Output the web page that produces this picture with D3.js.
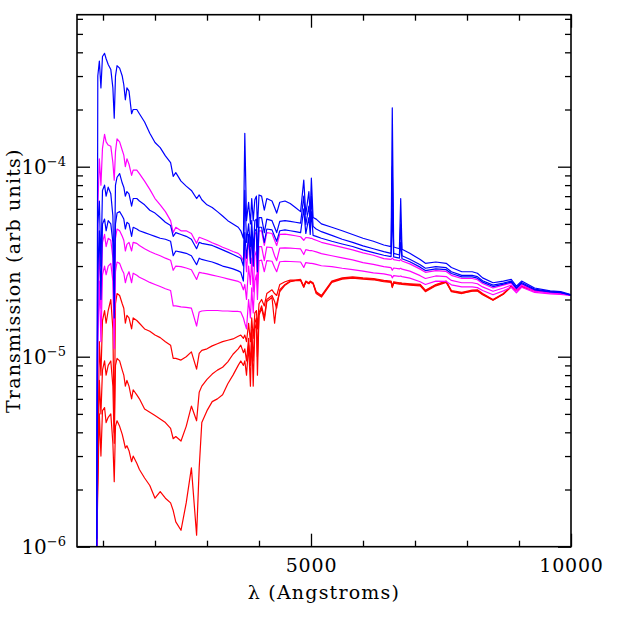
<!DOCTYPE html>
<html><head><meta charset="utf-8">
<script src="https://cdn.jsdelivr.net/npm/d3@7"></script>
<style>body{margin:0;background:#fff}</style>
</head><body>
<svg id="c" width="623" height="623"></svg>
<script>
// wavelength grid (Angstroms)
const wavelength = [
 880, 900, 930, 960, 990, 1030, 1060, 1100, 1150, 1190,
 1216, 1240, 1270, 1320, 1370, 1400, 1430, 1460, 1500, 1550,
 1580, 1650, 1700, 1800, 1900, 2000, 2100, 2200, 2300, 2350,
 2400, 2500, 2600, 2700, 2800, 2850, 2900, 3000, 3100, 3200,
 3300, 3400, 3500, 3600, 3650, 3700, 3727, 3760, 3800, 3835,
 3860, 3889, 3920, 3950, 3970, 4000, 4050, 4102, 4150, 4250,
 4300, 4340, 4400, 4500, 4600, 4700, 4800, 4861, 4900, 4959,
 4985, 5007, 5040, 5100, 5200, 5400, 5600, 5800, 6000, 6200,
 6400, 6540, 6563, 6590, 6700, 6725, 6750, 6900, 7100, 7200,
 7400, 7600, 7700, 7900, 8100, 8200, 8300, 8500, 8700, 8850,
 8950, 9050, 9300, 9600, 9800, 10000];

// transmission values, in units of 1e-6 (arb units)
const UNIT = 1e-6;
const blue1 = [
 1.1, 300, 360, 260, 380, 395, 370, 345, 325, 260,
 180, 300, 340, 330, 300, 270, 225, 260, 250, 190,
 200, 200, 190, 172, 150, 134, 126, 114, 105, 89,
 93, 84, 79, 75, 68, 71, 67, 63, 61, 58,
 55, 52, 50, 48, 46, 42, 150, 52, 65, 50,
 68, 52, 67, 70, 48, 71, 70, 59, 68, 66,
 61, 57, 65, 66, 64, 61, 58, 85, 56, 74,
 55, 87, 54, 53, 50, 48, 46, 44, 42, 40.5,
 38.7, 38, 204, 37.8, 37, 68, 36.8, 35, 32.5, 31,
 31.5, 31, 29.5, 28, 28, 27.5, 26, 24.5, 25, 25.5,
 23.5, 25, 23, 22.2, 22, 21.2];
const blue2 = [
 1.0, 50, 66, 30, 75, 80, 70, 78, 72, 55,
 25, 80, 88, 92, 82, 78, 70, 74, 72, 62,
 68, 68, 66, 63, 59, 57, 54, 51, 49, 43,
 45, 44, 43, 41.5, 37, 40, 39.5, 39, 38.5, 37.5,
 36.5, 35.5, 34.5, 33.5, 33, 30, 75, 40, 50, 38,
 52, 36, 52, 53, 33, 54, 54, 45, 53, 52,
 48, 45, 51.5, 52, 51.5, 51, 50.5, 70, 49.5, 62,
 49, 70, 48.5, 47, 45.5, 43.5, 41.5, 40, 38.3, 37,
 35.7, 35, 100, 35, 34.3, 50, 34, 32.6, 30.5, 29.2,
 29.8, 29.4, 28, 26.8, 26.8, 26.4, 25.1, 23.8, 24.4, 25,
 23.1, 24.6, 22.7, 22, 21.8, 21.1];
const blue3 = [
 1.0, 28, 46, 20, 50, 53, 46, 52, 50, 40,
 16, 50, 57, 58, 55, 53, 47, 51, 50, 43,
 48, 47, 46, 45, 44, 43, 42, 41.5, 40.5, 34,
 36, 35.5, 35, 34, 30.5, 33, 32.5, 32, 31.5, 30.8,
 30, 29.5, 29, 28.3, 27.8, 25, 45, 33, 44, 31,
 46, 30, 46, 47, 28, 48, 48, 40, 47, 46.5,
 43, 40.5, 46, 46.5, 46, 45.5, 45, 60, 44.5, 54,
 44, 58, 43.5, 43, 42, 40.5, 39.2, 38, 36.5, 35.3,
 34.2, 33.6, 60, 33.5, 33, 40, 32.8, 31.6, 29.6, 28.4,
 29, 28.7, 27.4, 26.3, 26.3, 25.9, 24.7, 23.4, 24.1, 24.7,
 22.9, 24.3, 22.5, 21.9, 21.7, 21.1];
const magenta1 = [
 1.0, 60, 110, 80, 125, 148, 135, 130, 128, 105,
 85, 120, 140, 135, 122, 115, 100, 110, 103, 90,
 96, 96, 92, 84, 76, 68, 63, 58, 52, 45,
 48, 46, 46, 44.5, 39.5, 42.5, 42, 41, 39.8, 38.8,
 37.7, 36.8, 35.8, 35, 34, 32, 38, 28, 42, 32,
 45, 30, 44, 45.5, 28, 46, 46, 38.5, 45, 44.5,
 41, 38.5, 44, 44.2, 43.8, 43.3, 42.8, 41, 42.4, 42.2,
 42, 42, 41.6, 41, 40, 38.8, 37.6, 36.5, 35.2, 34.2,
 32.8, 32.5, 33, 32.4, 32, 32.5, 31.9, 30.8, 28.9, 27.8,
 28.4, 28.1, 26.8, 25.8, 25.8, 25.4, 24.3, 23, 23.8, 24.4,
 22.7, 24.1, 22.4, 21.8, 21.6, 21.1];
const magenta2 = [
 1.0, 20, 38, 18, 40, 44, 38, 42, 41, 33,
 14, 42, 47, 46, 43, 41, 36, 39, 40, 36,
 40, 39.5, 38.5, 37, 35.8, 34.8, 34, 33, 32.2, 28.5,
 30, 29.8, 29.3, 28.7, 25.5, 27.8, 27.6, 27.3, 26.9, 26.5,
 26.1, 25.7, 25.3, 24.9, 24.5, 22.5, 24, 20, 30, 24,
 33, 22, 34, 36, 24, 38, 38, 32, 37.8, 37.5,
 34, 32, 37.3, 37.4, 37.3, 37.1, 36.9, 34.5, 36.6, 36.3,
 36.2, 36.2, 36, 35.6, 34.9, 34, 33.1, 32.3, 31.3, 30.6,
 29.8, 29.4, 28.5, 29.3, 29, 29.2, 28.9, 28.2, 26.7, 25.8,
 26.6, 26.4, 25.2, 24.5, 24.5, 24.2, 23.3, 22.1, 23, 23.8,
 22.2, 23.7, 22.1, 21.6, 21.5, 21.0];
const magenta3 = [
 1.0, 12, 25, 12, 27, 30, 27, 30, 31, 25,
 11, 28, 31.5, 31, 28.5, 27.5, 24.5, 26.5, 28, 24.5,
 27.5, 26.8, 26.2, 25.4, 24.6, 24, 23.4, 22.8, 22.3, 18.5,
 18.5, 18.3, 18.2, 18, 14.5, 17.2, 17.4, 17.5, 17.5, 17.5,
 17.4, 17.4, 17.3, 17.3, 17.2, 16, 15, 14, 20, 16,
 23, 17, 25, 27, 20, 32, 32.2, 28, 32, 31.8,
 29.5, 28, 31.6, 31.8, 31.7, 31.6, 31.5, 29.5, 31.3, 31.1,
 31, 31, 30.9, 30.6, 30.1, 29.8, 29.2, 28.7, 28.2, 27.6,
 27.3, 26.8, 26, 26.7, 26.5, 26.6, 26.4, 25.9, 24.8, 24,
 25, 24.9, 23.9, 23.3, 23.3, 23.1, 22.3, 21.2, 22.2, 23.2,
 21.7, 23.2, 21.8, 21.4, 21.3, 21.0];
const red1 = [
 1.0, 3, 12, 8, 15.5, 17.5, 15, 17.5, 20, 14,
 4, 19, 21.5, 21, 19, 18, 15, 16.5, 16, 14,
 16, 15.5, 15, 14, 13.6, 13, 12.6, 12, 11.5, 9.8,
 9.8, 9.6, 10, 10.6, 8.6, 10.4, 10.8, 11, 11.4, 11.7,
 12, 12.2, 12.4, 12.8, 13, 12.5, 13, 12, 15, 12,
 16, 12.5, 17, 17.5, 14, 19, 20, 18.5, 21.5, 22.5,
 21.5, 21, 24, 24.8, 25.3, 25.3, 25.5, 23.5, 25, 24.5,
 25, 24.8, 24.5, 22, 21, 25, 26, 26.3, 26, 25.8,
 25.2, 25, 23.5, 24.8, 24.5, 24.5, 24.4, 24.2, 24, 22.4,
 24, 25, 22.3, 21.8, 22.4, 22.5, 21.5, 20, 21.5, 23.5,
 22.5, 23.5, 22.4, 22, 21.8, 21.1];
const red2 = [
 1.0, 2.5, 7.5, 5, 8.5, 9.5, 8, 9, 9.5, 7,
 3.5, 9, 9.8, 9.5, 8.5, 8, 7, 7.5, 7, 6,
 6.7, 6.3, 6, 5.3, 5.1, 4.9, 4.7, 4.5, 4.2, 3.7,
 3.8, 3.6, 4.3, 5.5, 4.6, 6.5, 7, 7.6, 8.1, 8.5,
 8.8, 9.4, 10.3, 11, 11.5, 10.5, 11, 9.5, 12.5, 9,
 14, 9.5, 15, 16, 10, 17, 18.5, 16, 20, 21,
 19.5, 18, 22.5, 24, 25, 25.2, 25.3, 23.3, 24.8, 24.3,
 24.8, 24.6, 24.3, 21.8, 20.8, 24.8, 25.8, 26.1, 25.8, 25.6,
 25, 24.8, 23.3, 24.6, 24.3, 24.3, 24.2, 24, 23.8, 22.2,
 23.8, 24.8, 22.1, 21.6, 22.2, 22.3, 21.3, 19.9, 21.4, 23.4,
 22.4, 23.4, 22.3, 21.9, 21.7, 21.1];
const red3 = [
 1.0, 2.0, 5, 3, 5.2, 5.4, 4.5, 4.8, 5, 3.5,
 2.2, 4.3, 4.6, 4.3, 3.9, 3.6, 3.3, 3.4, 3.2, 2.8,
 3.0, 2.75, 2.55, 2.3, 2.1, 1.8, 1.95, 1.8, 1.7, 1.55,
 1.35, 1.22, 1.7, 2.6, 1.15, 2.6, 4.5, 5.2, 5.8, 6,
 6.3, 7.2, 8, 9, 9.5, 9, 9.5, 8, 11.5, 7,
 13, 7, 14, 15, 8, 16.5, 18, 15.5, 19.5, 20.5,
 15, 19, 22, 23.8, 24.8, 25.1, 25.2, 23.2, 24.7, 24.2,
 24.7, 24.5, 24.2, 21.5, 20.6, 24.6, 25.6, 25.9, 25.6, 25.4,
 24.8, 24.6, 23.1, 24.4, 24.1, 24.1, 24, 23.8, 23.6, 22,
 23.6, 24.6, 22, 21.5, 22.1, 22.2, 21.2, 19.8, 21.3, 23.3,
 22.3, 23.3, 22.2, 21.9, 21.7, 21.1];

const seriesNames = ["red3","red2","red1","magenta3","magenta2","magenta1","blue3","blue2","blue1"];
const seriesValues = [red3, red2, red1, magenta3, magenta2, magenta1, blue3, blue2, blue1];
const seriesColors = ["#ff0000","#ff0000","#ff0000","#ff00ff","#ff00ff","#ff00ff","#0000ff","#0000ff","#0000ff"];

const xMajorTicks = [5000, 10000];
const xMinorTicks = [1000, 2000, 3000, 4000, 6000, 7000, 8000, 9000];
const yMajorTicks = [1e-6, 1e-5, 1e-4];
const yMajorExp = ["\u22126", "\u22125", "\u22124"];
const yMinorTicks = [2e-6,3e-6,4e-6,5e-6,6e-6,7e-6,8e-6,9e-6,2e-5,3e-5,4e-5,5e-5,6e-5,7e-5,8e-5,9e-5,2e-4,3e-4,4e-4,5e-4,6e-4];
const xTitle = "\u03bb (Angstroms)";
const yTitle = "Transmission (arb units)";

const L = 77, R = 571, T = 14.7, B = 546.7;
const FONT = "'DejaVu Serif', serif";

const svg = d3.select("#c");
const x = d3.scaleLinear().domain([500, 10000]).range([L, R]);
const y = d3.scaleLog().domain([1e-6, Math.pow(10, -3.2)]).range([B, T]);

svg.append("defs").append("clipPath").attr("id", "clip")
  .append("rect").attr("x", L).attr("y", T).attr("width", R - L).attr("height", B - T);

const line = d3.line().x(d => x(d[0])).y(d => y(d[1]));
const gLines = svg.append("g").attr("clip-path", "url(#clip)");
seriesValues.forEach((vals, i) => {
  const pts = wavelength.map((w, j) => [w, vals[j] * UNIT]);
  gLines.append("path").datum(pts)
    .attr("d", line)
    .attr("fill", "none")
    .attr("stroke", seriesColors[i])
    .attr("stroke-width", 1.2)
    .attr("stroke-linejoin", "round");
});

function styleAxis(g) {
  g.select(".domain").remove();
  g.selectAll(".tick line").attr("stroke", "#000").attr("stroke-width", 1.3);
}

// bottom
svg.append("g").attr("transform", `translate(0,${B})`)
  .call(d3.axisBottom(x).tickValues(xMajorTicks).tickSize(-13).tickPadding(12).tickFormat(d3.format("d")))
  .call(styleAxis)
  .call(g => g.selectAll("text").attr("font-family", FONT).attr("font-size", 19)
    .attr("letter-spacing", 0.8).attr("fill", "#000"));
svg.append("g").attr("transform", `translate(0,${B})`)
  .call(d3.axisBottom(x).tickValues(xMinorTicks).tickSize(-6).tickFormat(""))
  .call(styleAxis);
// top
svg.append("g").attr("transform", `translate(0,${T})`)
  .call(d3.axisTop(x).tickValues(xMajorTicks).tickSize(-13).tickFormat(""))
  .call(styleAxis);
svg.append("g").attr("transform", `translate(0,${T})`)
  .call(d3.axisTop(x).tickValues(xMinorTicks).tickSize(-6).tickFormat(""))
  .call(styleAxis);
// left
svg.append("g").attr("transform", `translate(${L},0)`)
  .call(d3.axisLeft(y).tickValues(yMajorTicks).tickSize(-13).tickFormat(""))
  .call(styleAxis);
svg.append("g").attr("transform", `translate(${L},0)`)
  .call(d3.axisLeft(y).tickValues(yMinorTicks).tickSize(-6).tickFormat(""))
  .call(styleAxis);
// right
svg.append("g").attr("transform", `translate(${R},0)`)
  .call(d3.axisRight(y).tickValues(yMajorTicks).tickSize(-13).tickFormat(""))
  .call(styleAxis);
svg.append("g").attr("transform", `translate(${R},0)`)
  .call(d3.axisRight(y).tickValues(yMinorTicks).tickSize(-6).tickFormat(""))
  .call(styleAxis);

// y tick labels with superscript exponent
yMajorTicks.forEach((v, i) => {
  const t = svg.append("text")
    .attr("x", 66).attr("y", y(v) + 7)
    .attr("text-anchor", "end")
    .attr("font-family", FONT).attr("font-size", 20).attr("fill", "#000");
  t.append("tspan").text("10");
  t.append("tspan").attr("dy", -8).attr("font-size", 13).text(yMajorExp[i]);
});

// frame
svg.append("rect").attr("x", L).attr("y", T).attr("width", R - L).attr("height", B - T)
  .attr("fill", "none").attr("stroke", "#000").attr("stroke-width", 1.6);

// titles
svg.append("text").attr("x", (L + R) / 2).attr("y", 599)
  .attr("text-anchor", "middle").attr("font-family", FONT).attr("font-size", 19)
  .attr("letter-spacing", 1.2).attr("fill", "#000")
  .text(xTitle);
svg.append("text").attr("transform", `translate(20,${(T + B) / 2}) rotate(-90)`)
  .attr("text-anchor", "middle").attr("font-family", FONT).attr("font-size", 19)
  .attr("letter-spacing", 1.2).attr("fill", "#000")
  .text(yTitle);
</script>
</body></html>
